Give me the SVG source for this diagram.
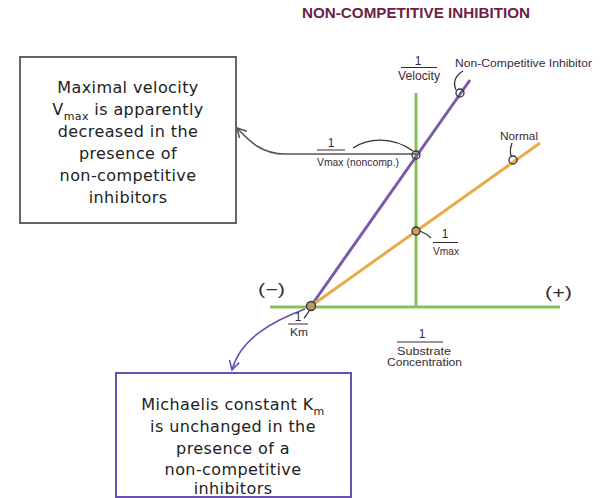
<svg xmlns="http://www.w3.org/2000/svg" width="605" height="498" viewBox="0 0 605 498">
<defs>
<style>
.box{font-family:"DejaVu Sans","Liberation Sans",sans-serif;font-size:16px;fill:#222;text-anchor:middle;letter-spacing:0.4px}
.hand{font-family:"Liberation Sans",Arial,sans-serif;fill:#3a2a35}
.pt{fill:none;stroke:#333;stroke-width:1.3}
.axis{stroke:#86c05a;stroke-width:3;fill:none}
</style>
<marker id="ag" markerWidth="12" markerHeight="12" refX="10" refY="6" orient="auto" markerUnits="userSpaceOnUse"><path d="M1,1 L10,6 L1,11" fill="none" stroke="#555" stroke-width="1.6"/></marker>
<marker id="ap" markerWidth="12" markerHeight="12" refX="10" refY="6" orient="auto" markerUnits="userSpaceOnUse"><path d="M1,1 L10,6 L1,11" fill="none" stroke="#6a4fb5" stroke-width="1.6"/></marker>
</defs>
<rect width="605" height="498" fill="#fff"/>
<text x="302" y="18" font-family="Liberation Sans,Arial,sans-serif" font-weight="bold" font-size="14" fill="#6e2146" textLength="228" lengthAdjust="spacingAndGlyphs">NON-COMPETITIVE INHIBITION</text>

<g id="axes">
<line class="axis" x1="416" y1="93" x2="416" y2="307"/>
<line class="axis" x1="270" y1="307" x2="560" y2="307"/>
</g>
<g id="lines">
<line x1="311" y1="306" x2="470" y2="80" stroke="#7b5ba8" stroke-width="3"/>
<line x1="311" y1="306" x2="540" y2="143" stroke="#e9aa4c" stroke-width="3"/>
</g>

<g id="connectors">
<path d="M416,154 L285,154 C262,154 250,142 237,128" fill="none" stroke="#555" stroke-width="1.6" marker-end="url(#ag)"/>
<path d="M305,309 C270,322 240,340 232,370" fill="none" stroke="#6a4fb5" stroke-width="1.6" marker-end="url(#ap)"/>
</g>

<g id="labels">
<text class="hand" x="418" y="65" font-size="12" text-anchor="middle">1</text>
<line x1="401" y1="67.5" x2="437" y2="67.5" stroke="#3a2a35" stroke-width="1"/>
<text class="hand" x="398" y="80" font-size="12" textLength="42" lengthAdjust="spacingAndGlyphs" fill="#5b3050">Velocity</text>

<text class="hand" x="455" y="67" font-size="11" textLength="137" lengthAdjust="spacingAndGlyphs">Non-Competitive Inhibitor</text>
<path class="pt" d="M463,71 C455,76 453,83 456,90"/>
<circle class="pt" cx="460" cy="93" r="4"/>

<text class="hand" x="500" y="140" font-size="11.5" textLength="38" lengthAdjust="spacingAndGlyphs">Normal</text>
<path class="pt" d="M512,143 C510,148 510,152 511,156"/>
<circle class="pt" cx="513" cy="160" r="4"/>

<text class="hand" x="331" y="147" font-size="12" text-anchor="middle">1</text>
<line x1="317" y1="150" x2="345" y2="150" stroke="#3a2a35" stroke-width="1"/>
<text class="hand" x="317" y="166" font-size="11.5" textLength="82" lengthAdjust="spacingAndGlyphs">Vmax (noncomp.)</text>
<path class="pt" d="M353,148 C368,138 392,136 413,151"/>
<circle class="pt" cx="416" cy="155" r="4"/>

<circle cx="416" cy="231" r="4" fill="#c9a060" stroke="#333" stroke-width="1.3"/>
<path class="pt" d="M420,231 C425,233 428,235 431,238"/>
<text class="hand" x="445" y="238" font-size="12" text-anchor="middle">1</text>
<line x1="433" y1="242.5" x2="458" y2="242.5" stroke="#3a2a35" stroke-width="1"/>
<text class="hand" x="433" y="255" font-size="11" textLength="26" lengthAdjust="spacingAndGlyphs">Vmax</text>

<text class="hand" x="258" y="295" font-size="16" textLength="27" lengthAdjust="spacingAndGlyphs">(−)</text>
<text class="hand" x="545" y="298" font-size="16" textLength="27" lengthAdjust="spacingAndGlyphs">(+)</text>

<circle cx="311" cy="306" r="4.5" fill="#b99a6a" stroke="#333" stroke-width="1.3"/>
<path class="pt" d="M309,311 C307,315 305,317 304,318"/>
<text class="hand" x="298" y="321" font-size="12" text-anchor="middle">1</text>
<line x1="288" y1="324" x2="308" y2="324" stroke="#3a2a35" stroke-width="1"/>
<text class="hand" x="290" y="336" font-size="11" textLength="18" lengthAdjust="spacingAndGlyphs">Km</text>

<text class="hand" x="422" y="338" font-size="12" text-anchor="middle">1</text>
<line x1="397" y1="342" x2="443" y2="342" stroke="#3a2a35" stroke-width="1"/>
<text class="hand" x="397" y="355" font-size="10" textLength="54" lengthAdjust="spacingAndGlyphs" fill="#5b3050">Substrate</text>
<text class="hand" x="387" y="366" font-size="10" textLength="75" lengthAdjust="spacingAndGlyphs" fill="#5b3050">Concentration</text>
</g>

<g id="box-vmax">
<rect x="20" y="57" width="216" height="166" fill="#fff" stroke="#666" stroke-width="2"/>
<text class="box" x="128" y="93">Maximal velocity</text>
<text class="box" x="128" y="115">V<tspan font-size="11" dy="5">max</tspan><tspan dy="-5"> is apparently</tspan></text>
<text class="box" x="128" y="137">decreased in the</text>
<text class="box" x="128" y="159">presence of</text>
<text class="box" x="128" y="181">non-competitive</text>
<text class="box" x="128" y="203">inhibitors</text>
</g>

<g id="box-km">
<rect x="116" y="373" width="235" height="124" fill="#fff" stroke="#6a4fb5" stroke-width="2"/>
<text class="box" x="233" y="410">Michaelis constant K<tspan font-size="11" dy="5">m</tspan></text>
<text class="box" x="233" y="432">is unchanged in the</text>
<text class="box" x="233" y="454">presence of a</text>
<text class="box" x="233" y="475">non-competitive</text>
<text class="box" x="233" y="494">inhibitors</text>
</g>
</svg>
